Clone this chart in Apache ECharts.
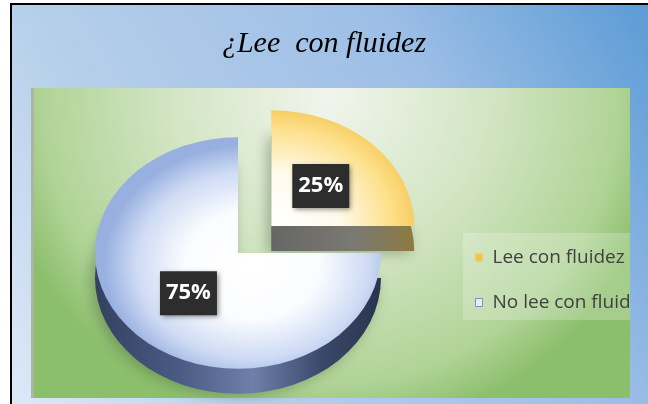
<!DOCTYPE html>
<html>
<head>
<meta charset="utf-8">
<script src="https://cdn.jsdelivr.net/npm/echarts@6/dist/echarts.min.js"></script>
<style>
	html, body { margin: 0; padding: 0; background: #fff; }
	#pastel-Echarts { width: 648px; height: 404px; }
</style>
</head>
<body>
<div id="pastel-Echarts"></div>
<script>
	// datos
	var categorias = ['Lee con fluidez', 'No lee con fluidez']
	var valores = [25, 75]

	var total = valores.reduce(function (a, b) { return a + b }, 0)
	// ángulo inicial de cada porción: arriba y en sentido horario
	var angInicio = []
	var acum = 0
	valores.forEach(function (v) {
		angInicio.push(-Math.PI / 2 + acum / total * Math.PI * 2)
		acum += v
	})

	var R = 143          // radio horizontal
	var escalaY = 0.81   // aplastamiento (vista en perspectiva)
	var grosor = 25      // alto del canto
	var cx = 238, cy = 253
	var separa = [47, 0] // porción separada del centro

	// cara superior de cada porción
	var caras = [
		{ type: 'radial', x: 0.05, y: 0.95, r: 1.05, colorStops: [
			{ offset: 0, color: '#ffffff' }, { offset: 0.4, color: '#fffaea' },
			{ offset: 0.75, color: '#fde08a' }, { offset: 1, color: '#f4c24c' }] },
		{ type: 'radial', x: 0.55, y: 0.55, r: 0.52, colorStops: [
			{ offset: 0, color: '#ffffff' }, { offset: 0.45, color: '#fbfcff' },
			{ offset: 0.78, color: '#cedbf4' }, { offset: 1, color: '#98b0e0' }] }
	]
	// canto de cada porción
	var cantos = [
		{ type: 'linear', x: 0, y: 0, x2: 1, y2: 0, colorStops: [
			{ offset: 0, color: '#666666' }, { offset: 0.6, color: '#7b7a72' }, { offset: 1, color: '#8d7a40' }] },
		{ type: 'linear', x: 0, y: 0, x2: 1, y2: 0, colorStops: [
			{ offset: 0, color: '#34405f' }, { offset: 0.3, color: '#4b5b84' }, { offset: 0.55, color: '#6e80aa' },
			{ offset: 0.8, color: '#3a4768' }, { offset: 1, color: '#2a3450' }] }
	]
	var coloresLeyenda = [
		{ color: '#f6c445' },
		{ color: '#e6edf8', borderColor: '#7f93b8', borderWidth: 1 }
	]
	// fondo azul (se reutiliza en la franja que recorta la leyenda)
	var fondoAzul = { type: 'linear', x: 0, y: 404, x2: 648, y2: 0, global: true, colorStops: [
		{ offset: 0, color: '#dfeaf7' }, { offset: 0.3, color: '#b6cfea' },
		{ offset: 0.7, color: '#9cbee6' }, { offset: 1, color: '#5b9bd5' }] }

	function dibujarPorcion(i) {
		return function (params, api) {
			var a0 = angInicio[i]
			var a1 = a0 + api.value(0) / total * Math.PI * 2
			var medio = (a0 + a1) / 2
			var x = cx + separa[i] * Math.cos(medio)
			var y = cy + separa[i] * Math.sin(medio) * escalaY
			var forma = { cx: 0, cy: 0, r0: 0, r: R, startAngle: a0, endAngle: a1, clockwise: true }
			return {
				type: 'group',
				children: [
					{
						type: 'sector', x: x, y: y + grosor, scaleY: escalaY, shape: forma, z2: 1,
						style: { fill: cantos[i], shadowBlur: 14, shadowColor: 'rgba(30,60,20,0.35)', shadowOffsetX: -4, shadowOffsetY: 2 }
					},
					{
						type: 'sector', x: x, y: y, scaleY: escalaY, shape: forma, z2: 5,
						style: { fill: caras[i] }
					},
					{
						type: 'text', z2: 10,
						x: x + 0.49 * R * Math.cos(medio),
						y: y + 0.49 * R * Math.sin(medio) * escalaY,
						style: {
							text: api.value(0) + '%',
							fill: '#ffffff',
							fontFamily: 'Open Sans',
							fontWeight: 'bold',
							fontSize: 22,
							lineHeight: 26,
							align: 'center',
							verticalAlign: 'middle',
							backgroundColor: '#2d2d2d',
							padding: [9, 6, 9, 6],
							shadowBlur: 5,
							shadowColor: 'rgba(0,0,0,0.45)',
							shadowOffsetX: 2,
							shadowOffsetY: 2
						}
					}
				]
			}
		}
	}

	var chart = echarts.init(document.getElementById('pastel-Echarts'))
	chart.setOption({
		animation: false,
		backgroundColor: '#ffffff',
		title: {
			text: '¿Lee  con fluidez',
			left: 'center',
			top: 24,
			textStyle: { fontFamily: 'Liberation Serif', fontStyle: 'italic', fontWeight: 'normal', fontSize: 30, color: '#000' }
		},
		graphic: [
			{ type: 'rect', z: -10, shape: { x: 12, y: 5, width: 636, height: 399 }, style: { fill: fondoAzul } },
			{ type: 'rect', z: -9, shape: { x: 10, y: 3, width: 638, height: 2 }, style: { fill: '#000' } },
			{ type: 'rect', z: -9, shape: { x: 10, y: 3, width: 2, height: 401 }, style: { fill: '#000' } },
			{
				type: 'rect', z: -8, shape: { x: 31, y: 88, width: 599, height: 310 },
				style: { fill: { type: 'radial', x: 330, y: 95, r: 340, global: true, colorStops: [
					{ offset: 0, color: '#f1f5ed' }, { offset: 0.45, color: '#d4e6c6' },
					{ offset: 0.85, color: '#b0d396' }, { offset: 1, color: '#8cbf6c' }] } }
			},
			{ type: 'rect', z: -7, shape: { x: 31, y: 88, width: 3, height: 310 }, style: { fill: '#aab5a2' } },
			// franja derecha que tapa el final de la leyenda
			{ type: 'rect', z: 20, shape: { x: 630, y: 88, width: 18, height: 316 }, style: { fill: fondoAzul } }
		],
		legend: {
			orient: 'vertical',
			left: 463,
			top: 233,
			padding: [15, 0, 8, 12],
			backgroundColor: 'rgba(255,255,255,0.22)',
			itemWidth: 7,
			itemHeight: 8,
			itemGap: 26,
			icon: 'rect',
			data: categorias.map(function (c, i) { return { name: c, itemStyle: coloresLeyenda[i] } }),
			textStyle: {
				fontFamily: 'Open Sans',
				fontSize: 19,
				color: '#404040',
				padding: [0, 0, 0, 5],
				width: 146,
				overflow: 'truncate',
				ellipsis: ''
			}
		},
		series: categorias.map(function (c, i) {
			return {
				name: c,
				type: 'custom',
				coordinateSystem: 'none',
				itemStyle: { color: coloresLeyenda[i].color },
				renderItem: dibujarPorcion(i),
				data: [valores[i]]
			}
		})
	})
</script>
</body>
</html>
